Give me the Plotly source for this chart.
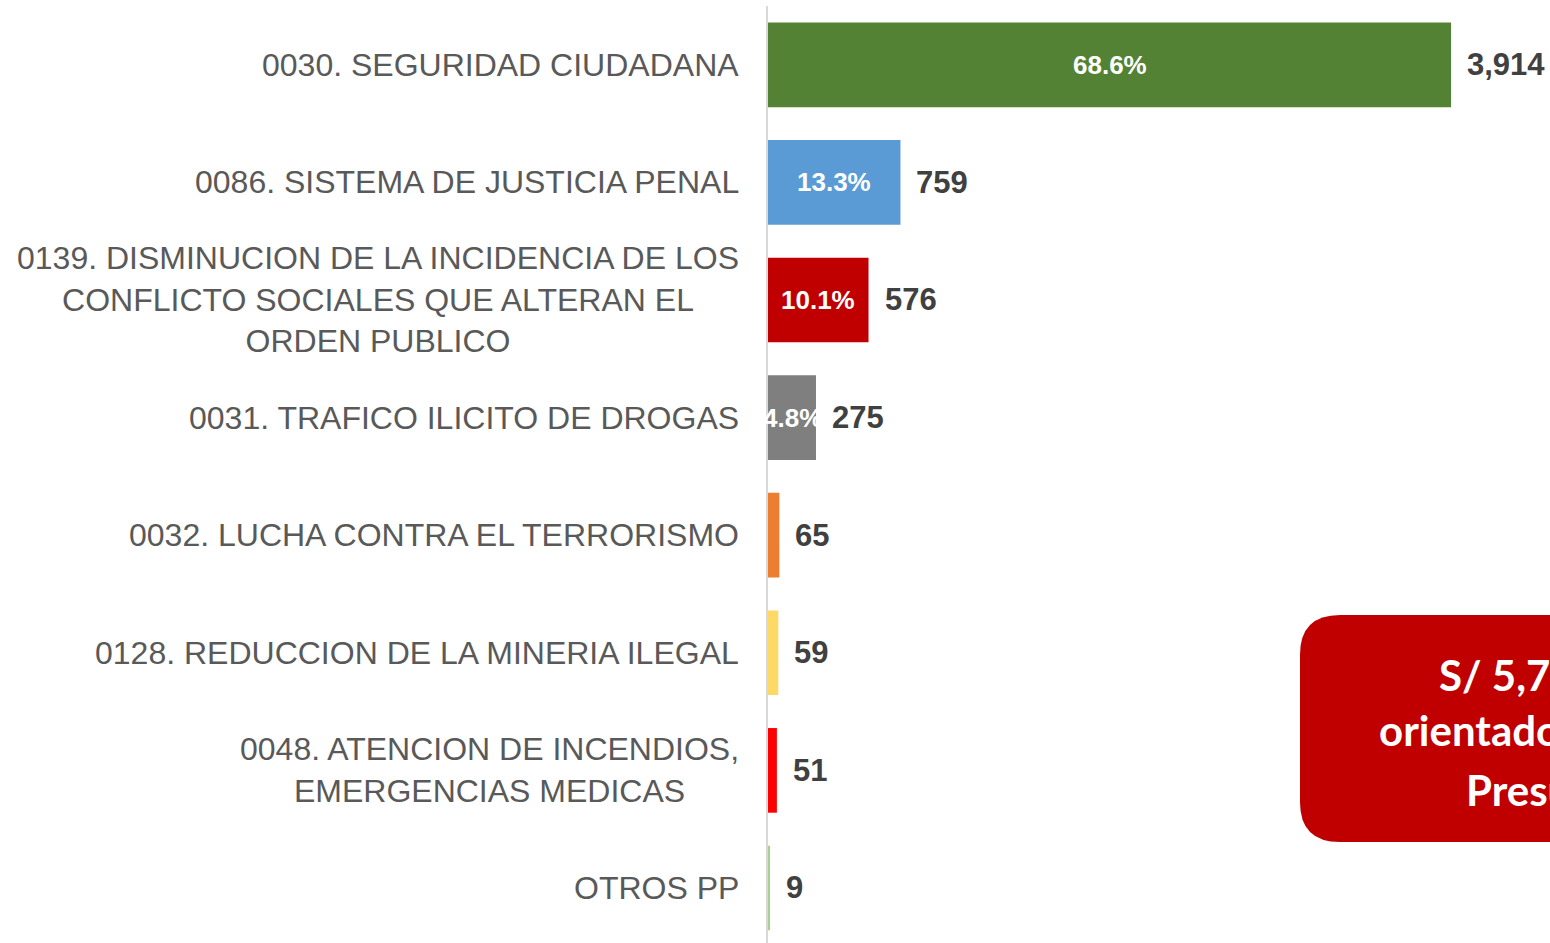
import plotly.graph_objects as go

categories = [
    "0030. SEGURIDAD CIUDADANA",
    "0086. SISTEMA DE JUSTICIA PENAL",
    "0139. DISMINUCION DE LA INCIDENCIA DE LOS<br>CONFLICTO SOCIALES QUE ALTERAN EL<br>ORDEN PUBLICO",
    "0031. TRAFICO ILICITO DE DROGAS",
    "0032. LUCHA CONTRA EL TERRORISMO",
    "0128. REDUCCION DE LA MINERIA ILEGAL",
    "0048. ATENCION DE INCENDIOS,<br>EMERGENCIAS MEDICAS",
    "OTROS PP",
]
values = [3914, 759, 576, 275, 65, 59, 51, 9]
value_labels = ["3,914", "759", "576", "275", "65", "59", "51", "9"]
pct_labels = ["68.6%", "13.3%", "10.1%", "4.8%", "", "", "", ""]
box_lines = ["S/ 5,708 millones", "orientados a Programas", "Presupuestales"]

colors = ["#548235", "#5B9BD5", "#C00000", "#7F7F7F", "#ED7D31", "#FFD966", "#FF0000", "#A9D18E"]

W, H = 1550, 943
ML, MR, MT, MB = 768, 0, 6, 0
PW, PH = W - ML - MR, H - MT - MB

ypos = list(range(len(categories)))

fig = go.Figure()
fig.add_trace(go.Bar(
    x=values, y=ypos, orientation="h",
    marker=dict(color=colors, line=dict(width=0)),
    width=0.72, hoverinfo="skip",
))

ann = []
for i, (c, v, vl, pl) in enumerate(zip(categories, values, value_labels, pct_labels)):
    ann.append(dict(
        xref="paper", x=0, yref="y", y=i, xanchor="right", yanchor="middle",
        xshift=-27, text=c, showarrow=False, align="center",
        font=dict(family="Liberation Sans, Arial, sans-serif", size=32, color="#595959"),
    ))
    ann.append(dict(
        xref="x", x=v, yref="y", y=i, xanchor="left", yanchor="middle",
        xshift=14, text=vl, showarrow=False,
        font=dict(family="Liberation Sans, Arial, sans-serif", size=31, color="#404040", weight="bold"),
    ))
    if pl:
        ann.append(dict(
            xref="x", x=v / 2, yref="y", y=i, xanchor="center", yanchor="middle",
            text=pl, showarrow=False,
            font=dict(family="Liberation Sans, Arial, sans-serif", size=26, color="white", weight="bold"),
        ))

def px_x(p):
    return (p - ML) / PW

def px_y(p):
    return 1 - (p - MT) / PH

# rounded red box (partially off-canvas, as in the reference)
x0, x1, y0, y1, r = 1300, 1930, 615, 842, 40
path = (
    f"M {px_x(x0 + r)},{px_y(y0)} L {px_x(x1 - r)},{px_y(y0)} "
    f"Q {px_x(x1)},{px_y(y0)} {px_x(x1)},{px_y(y0 + r)} "
    f"L {px_x(x1)},{px_y(y1 - r)} Q {px_x(x1)},{px_y(y1)} {px_x(x1 - r)},{px_y(y1)} "
    f"L {px_x(x0 + r)},{px_y(y1)} Q {px_x(x0)},{px_y(y1)} {px_x(x0)},{px_y(y1 - r)} "
    f"L {px_x(x0)},{px_y(y0 + r)} Q {px_x(x0)},{px_y(y0)} {px_x(x0 + r)},{px_y(y0)} Z"
)
shapes = [dict(type="path", xref="paper", yref="paper", path=path,
               fillcolor="#C00000", line=dict(width=0), layer="above")]

for txt, lx, ly in zip(box_lines, [1437, 1377, 1464], [675, 730, 790]):
    ann.append(dict(
        xref="paper", x=px_x(lx), yref="paper", y=px_y(ly), xanchor="left", yanchor="middle",
        text=txt, showarrow=False,
        font=dict(family="Lato, Open Sans, sans-serif", size=42, color="white", weight="bold"),
    ))

fig.update_layout(
    width=W, height=H,
    margin=dict(l=ML, r=MR, t=MT, b=MB, pad=0),
    paper_bgcolor="white", plot_bgcolor="white",
    showlegend=False,
    xaxis=dict(range=[0, 4481], visible=False, fixedrange=True),
    yaxis=dict(range=[7.468, -0.5], showticklabels=False, showgrid=False, zeroline=False,
               showline=True, linecolor="#D9D9D9", linewidth=2, ticks="", fixedrange=True),
    annotations=ann, shapes=shapes,
)

fig.write_html("out.html", config={"displayModeBar": False},
               post_script="document.body.style.margin='0';document.body.style.overflow='hidden';")
